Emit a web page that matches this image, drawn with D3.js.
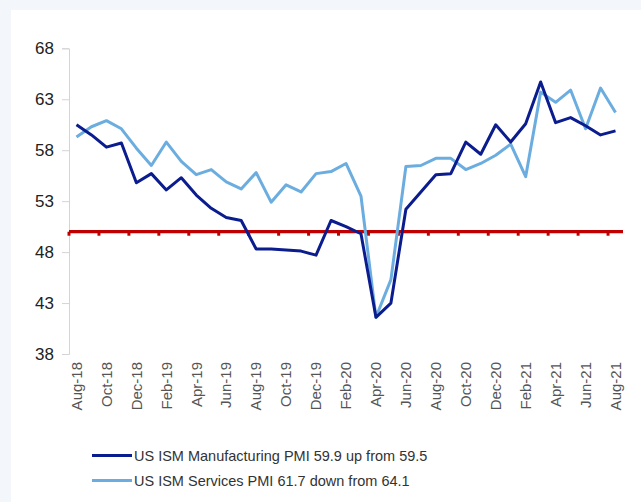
<!DOCTYPE html>
<html>
<head>
<meta charset="utf-8">
<script src="https://cdn.jsdelivr.net/npm/d3@7"></script>
<style>
  html, body { margin: 0; padding: 0; background: #f3f6fa; }
  #chart { display: block; }
  text { font-family: "Liberation Sans", Arial, sans-serif; }
</style>
</head>
<body>
<svg id="chart" width="641" height="502"></svg>
<script>
// months shown on the category axis
const months = [
  "Aug-18","Sep-18","Oct-18","Nov-18","Dec-18","Jan-19","Feb-19","Mar-19","Apr-19","May-19",
  "Jun-19","Jul-19","Aug-19","Sep-19","Oct-19","Nov-19","Dec-19","Jan-20","Feb-20","Mar-20",
  "Apr-20","May-20","Jun-20","Jul-20","Aug-20","Sep-20","Oct-20","Nov-20","Dec-20","Jan-21",
  "Feb-21","Mar-21","Apr-21","May-21","Jun-21","Jul-21","Aug-21"
];

// US ISM Manufacturing PMI
const manufacturing = [
  60.5, 59.5, 58.3, 58.7, 54.8, 55.7, 54.1, 55.3, 53.6, 52.3,
  51.4, 51.1, 48.3, 48.3, 48.2, 48.1, 47.7, 51.1, 50.5, 49.8,
  41.6, 43.0, 52.2, 53.9, 55.6, 55.7, 58.8, 57.6, 60.5, 58.8,
  60.6, 64.7, 60.7, 61.2, 60.4, 59.5, 59.9
];

// US ISM Services PMI
const services = [
  59.3, 60.3, 60.9, 60.1, 58.2, 56.5, 58.8, 56.9, 55.6, 56.1,
  54.9, 54.2, 55.8, 52.9, 54.6, 53.9, 55.7, 55.9, 56.7, 53.5,
  41.6, 45.3, 56.4, 56.5, 57.2, 57.2, 56.1, 56.7, 57.5, 58.6,
  55.4, 63.7, 62.7, 63.9, 60.1, 64.1, 61.7
];

const yTicks = [38, 43, 48, 53, 58, 63, 68];
const threshold = 50;

const legendLabels = [
  "US ISM Manufacturing PMI 59.9 up from 59.5",
  "US ISM Services PMI 61.7 down from 64.1"
];

const svg = d3.select("#chart");

// white panel (the strip on the top and left stays light grey-blue)
svg.append("rect")
  .attr("x", 11).attr("y", 10)
  .attr("width", 630).attr("height", 492)
  .attr("fill", "#ffffff");

const x = d3.scaleBand().domain(months).range([69, 623]).paddingInner(0).paddingOuter(0);
const y = d3.scaleLinear().domain([38, 68]).range([354, 48.3]);
const cx = d => x(d) + x.bandwidth() / 2;

// y axis
const yAxis = svg.append("g")
  .attr("transform", "translate(69,0)")
  .call(d3.axisLeft(y).tickValues(yTicks).tickSize(7).tickPadding(8).tickFormat(d3.format("d")));
yAxis.select(".domain").attr("stroke", "#d4d4d4");
yAxis.selectAll(".tick line").attr("stroke", "#d4d4d4");
yAxis.selectAll(".tick text")
  .attr("fill", "#222")
  .style("font-size", "17px")
  .style("font-family", "'Liberation Sans', Arial, sans-serif");

// x labels at the bottom, every second month, rotated
const xLabels = svg.append("g")
  .attr("transform", "translate(0,354)")
  .call(d3.axisBottom(x).tickValues(months.filter((d, i) => i % 2 === 0)).tickSize(0).tickPadding(0));
xLabels.select(".domain").remove();
xLabels.selectAll(".tick text")
  .attr("fill", "#555")
  .style("font-size", "15px")
  .style("font-family", "'Liberation Sans', Arial, sans-serif")
  .attr("text-anchor", "end")
  .attr("dy", "0.35em")
  .attr("transform", "translate(0,8) rotate(-90)")
  .attr("x", 0).attr("y", 0);

// red 50 line (the horizontal axis crosses here) with its small tick marks
const y50 = y(threshold);
svg.append("g")
  .selectAll("line")
  .data(months.filter((d, i) => i % 2 === 0))
  .join("line")
  .attr("x1", d => x(d)).attr("x2", d => x(d))
  .attr("y1", y50).attr("y2", y50 + 4)
  .attr("stroke", "#c00000")
  .attr("stroke-width", 3);
svg.append("line")
  .attr("x1", x.range()[0]).attr("x2", x.range()[1])
  .attr("y1", y50).attr("y2", y50)
  .attr("stroke", "#c00000")
  .attr("stroke-width", 3.2);

const line = d3.line()
  .x((d, i) => cx(months[i]))
  .y(d => y(d));

svg.append("path")
  .datum(services)
  .attr("d", line)
  .attr("fill", "none")
  .attr("stroke", "#6cade0")
  .attr("stroke-width", 3)
  .attr("stroke-linejoin", "round");

svg.append("path")
  .datum(manufacturing)
  .attr("d", line)
  .attr("fill", "none")
  .attr("stroke", "#0b1d8e")
  .attr("stroke-width", 3)
  .attr("stroke-linejoin", "round");

// legend
const legendColors = ["#0b1d8e", "#6cade0"];
const legend = svg.append("g");
legendLabels.forEach((label, i) => {
  const ly = 455.5 + i * 25;
  legend.append("line")
    .attr("x1", 92).attr("x2", 132)
    .attr("y1", ly).attr("y2", ly)
    .attr("stroke", legendColors[i])
    .attr("stroke-width", 3);
  legend.append("text")
    .attr("x", 134).attr("y", ly)
    .attr("dy", "0.35em")
    .attr("fill", "#333")
    .style("font-size", "14.5px")
    .text(label);
});
</script>
</body>
</html>
